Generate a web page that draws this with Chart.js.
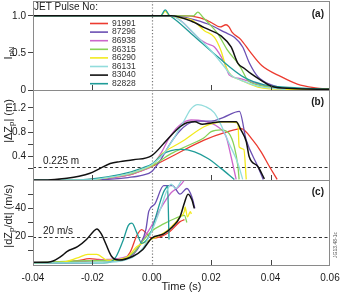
<!DOCTYPE html>
<html><head><meta charset="utf-8">
<script src="https://cdn.jsdelivr.net/npm/chart.js@4.4.1/dist/chart.umd.min.js"></script>
<style>
html,body{margin:0;padding:0;background:#fff;}
#wrap{position:relative;width:342px;height:294px;overflow:hidden;background:#fff;}
canvas{position:absolute;left:0;}
</style></head><body>
<div id="wrap">
<canvas id="cA" width="342" height="100" style="top:0px"></canvas>
<canvas id="cB" width="342" height="110" style="top:80px"></canvas>
<canvas id="cC" width="342" height="124" style="top:170px"></canvas>
</div>
<script>
// ---------------- DATA ----------------
const pulseNames = ['91991','87296','86938','86315','86290','86131','83040','82828'];

// x tick values / labels
const xTickValues = [-0.04,-0.02,0,0.02,0.04,0.06];
const xTickLabels = ['-0.04','-0.02','0.00','0.02','0.04','0.06'];
const xInnerTicks = [-0.02,0.02,0.04];

// y ticks
const yTicksA = [0,0.5,1.0];           const yLabelsA = ['0','0.5','1.0'];
const yTicksB = [0.2,0.4,0.6,0.8,1.0,1.2]; const yLabelsB = ['','0.4','','0.8','','1.2'];
const yTicksC = [10,20,30,40,50];      const yLabelsC = ['','20','','40',''];

// thresholds
const thresholdB = 0.225; const thresholdBLabel = '0.225 m';
const thresholdC = 20;    const thresholdCLabel = '20 m/s';

// ---- Panel (a): I_pN ----
const tA_91991 = [-0.04,0.012,0.018,0.020,0.023,0.025,0.026,0.027,0.030,0.033,0.037,0.0435,0.049,0.055,0.06];
const vA_91991 = [1,1,0.95,0.91,0.85,0.88,0.85,0.78,0.68,0.52,0.33,0.18,0.08,0.03,0.01];
const tA_87296 = [-0.04,0.008,0.0132,0.0189,0.0245,0.0278,0.0306,0.0329,0.0357,0.0402,0.047,0.06];
const vA_87296 = [1,1,0.96,0.89,0.78,0.71,0.58,0.36,0.18,0.07,0.02,0.01];
const tA_86938 = [-0.04,0.0065,0.0099,0.0132,0.0166,0.0189,0.0211,0.0245,0.0261,0.029,0.0334,0.04,0.05];
const vA_86938 = [1,1,0.93,0.80,0.67,0.62,0.58,0.36,0.20,0.16,0.11,0.04,0.01];
const tA_86315 = [-0.04,0.014,0.0155,0.0172,0.0189,0.0222,0.0256,0.029,0.0301,0.0323,0.0357,0.045,0.06];
const vA_86315 = [1,1,1.05,0.98,0.91,0.76,0.53,0.36,0.29,0.13,0.07,0.02,0.01];
const tA_86290 = [-0.04,0.003,0.0045,0.006,0.0132,0.0177,0.0211,0.0233,0.025,0.0267,0.0301,0.0357,0.045,0.06];
const vA_86290 = [1,1,1.06,1,0.95,0.80,0.71,0.53,0.31,0.20,0.13,0.04,0.01,0.01];
const tA_86131 = [-0.04,0.0065,0.011,0.0155,0.020,0.0245,0.0267,0.0301,0.036,0.045];
const vA_86131 = [1,1,0.89,0.71,0.53,0.31,0.20,0.13,0.05,0.01];
const tA_83040 = [-0.04,0.0065,0.0132,0.0177,0.0233,0.0267,0.029,0.0312,0.0334,0.0368,0.0402,0.047,0.06];
const vA_83040 = [1,1,0.93,0.84,0.73,0.58,0.36,0.29,0.22,0.13,0.05,0.02,0.01];
const tA_82828 = [-0.04,0.003,0.0045,0.006,0.0065,0.0133,0.0224,0.0311,0.0379,0.0493,0.06];
const vA_82828 = [1,1,1.08,1,0.99,0.76,0.44,0.17,0.07,0.03,0.01];

// ---- Panel (b): |dZp| (m) ----
const tB_91991 = [-0.04,-0.025,-0.015,-0.008,-0.003,0,0.0065,0.0176,0.025,0.0301,0.034,0.0368,0.0396,0.0422];
const vB_91991 = [0.02,0.02,0.05,0.10,0.18,0.24,0.40,0.67,0.80,0.86,0.67,0.48,0.24,0.03];
const tB_87296 = [-0.04,-0.022,-0.015,-0.008,-0.003,0,0.003,0.006,0.009,0.012,0.015,0.02,0.024,0.0295,0.0318,0.0357,0.0375];
const vB_87296 = [0.02,0.02,0.03,0.06,0.10,0.16,0.35,0.60,0.80,0.93,0.98,0.98,1.04,1.14,0.67,0.24,0.03];
const tB_86938 = [-0.04,-0.022,-0.015,-0.008,-0.003,0,0.003,0.006,0.009,0.0132,0.0176,0.0222,0.025,0.0267,0.0284];
const vB_86938 = [0.02,0.02,0.05,0.10,0.18,0.25,0.45,0.72,0.90,1.0,0.98,0.89,0.73,0.40,0.03];
const tB_86315 = [-0.04,-0.022,-0.015,-0.008,-0.003,0,0.0065,0.012,0.0176,0.020,0.0233,0.026,0.0278,0.029,0.0294];
const vB_86315 = [0.02,0.02,0.06,0.11,0.19,0.25,0.45,0.58,0.71,0.81,0.84,0.78,0.56,0.24,0.03];
const tB_86290 = [-0.04,-0.022,-0.015,-0.008,-0.003,0,0.0035,0.0099,0.0176,0.021,0.025,0.029,0.0294,0.031,0.0318];
const vB_86290 = [0.02,0.02,0.06,0.12,0.20,0.26,0.45,0.64,0.89,0.95,0.97,0.95,0.56,0.52,0.03];
const tB_86131 = [-0.04,-0.022,-0.015,-0.008,-0.003,0,0.004,0.008,0.011,0.013,0.0155,0.018,0.021,0.023,0.026,0.029,0.0306];
const vB_86131 = [0.02,0.02,0.06,0.12,0.20,0.27,0.45,0.75,1.0,1.17,1.25,1.22,1.12,0.95,0.62,0.29,0.03];
const tB_83040 = [-0.04,-0.035,-0.0286,-0.0245,-0.0208,-0.0174,-0.014,-0.0107,-0.0062,0,0.005,0.0095,0.012,0.0145,0.017,0.02,0.0233,0.0284,0.030,0.0318,0.0328,0.0357,0.0379];
const vB_83040 = [0.02,0.02,0.048,0.08,0.13,0.21,0.29,0.32,0.35,0.42,0.67,0.89,0.96,0.97,0.93,0.95,0.97,0.97,0.84,0.65,0.40,0.24,0.04];
const tB_82828 = [-0.04,-0.025,-0.015,-0.008,-0.003,0,0.0039,0.0065,0.0099,0.0144,0.0189,0.0233,0.0278];
const vB_82828 = [0.02,0.02,0.07,0.14,0.22,0.28,0.45,0.50,0.52,0.48,0.37,0.21,0.03];

// ---- Panel (c): |dZp/dt| (m/s) ----
const tC_91991 = [-0.04,-0.03,-0.025,-0.021,-0.018,-0.0107,-0.0073,-0.005,-0.0034,-0.0017,0,0.003,0.006,0.0095,0.011];
const vC_91991 = [1.5,2,3,4.5,4,3,9,21,25,22,18.8,20,23.5,30.6,32];
const tC_87296 = [-0.04,-0.015,-0.012,-0.009,-0.006,-0.004,-0.002,-0.001,0.001,0.004,0.007,0.0095,0.0118,0.0135,0.0145];
const vC_87296 = [1.5,2,3,4,8,14,25,38,43,56,56,50,54,48,40];
const tC_86938 = [-0.04,-0.02,-0.015,-0.01,-0.006,-0.003,0,0.003,0.0065,0.009,0.011,0.012];
const vC_86938 = [1.5,3,4,5,9,18,28,40,51,55,60,64];
const tC_86315 = [-0.04,-0.02,-0.015,-0.01,-0.006,-0.003,0,0.004,0.008,0.011,0.0118];
const vC_86315 = [1.5,3,3,4,9,17,24,29,33,35,30];
const tC_86290 = [-0.04,-0.03,-0.025,-0.0215,-0.0185,-0.015,-0.011,-0.008,-0.005,-0.0017,0.0017,0.005,0.008,0.0095,0.011,0.0112,0.012,0.013,0.0133];
const vC_86290 = [1.5,2,5,7.5,7.5,3.5,4,6,13,16.5,20,24,30,34,38,41,34,37.7,36];
const tC_86131 = [-0.04,-0.015,-0.01,-0.006,-0.003,0,0.003,0.005,0.0065,0.008,0.0095,0.011];
const vC_86131 = [1.5,2,3,6,12,24,40,52,57,54,58,64];
const tC_83040 = [-0.04,-0.035,-0.033,-0.030,-0.0286,-0.025,-0.022,-0.0195,-0.0185,-0.017,-0.0155,-0.0135,-0.011,-0.0065,-0.003,0,0.004,0.007,0.0095,0.011,0.0122,0.0135,0.0143];
const vC_83040 = [2,2,3,7,9.5,13,18,24,25.5,22,15,6,3.5,6,11,19,22,27,34,44,50,46,40];
const tC_82828 = [-0.04,-0.016,-0.014,-0.012,-0.0096,-0.0079,-0.0067,-0.005,-0.0034,-0.0017,0,0.0017,0.0038,0.005,0.0053,0.0058];
const vC_82828 = [1.5,1.5,2,6,17.7,28,29.5,22.5,15.3,17.7,24.7,36.6,50.7,55,56,18];

// ---------------- STYLE ----------------
const pulseColors = ['#ec3b30','#6b4fb3','#cc66cc','#86d257','#f2ea1e','#92dcdc','#111111','#1f9c98'];
const drawOrder   = [6,4,5,3,2,1,0,1];
const FONT = "'Liberation Sans', Arial, Helvetica, sans-serif";

function series(ts, vs){ return ts.map((t,i)=>({x:t,y:vs[i]})); }

const panelA = [[tA_91991,vA_91991],[tA_87296,vA_87296],[tA_86938,vA_86938],[tA_86315,vA_86315],[tA_86290,vA_86290],[tA_86131,vA_86131],[tA_83040,vA_83040],[tA_82828,vA_82828]];
const panelB = [[tB_91991,vB_91991],[tB_87296,vB_87296],[tB_86938,vB_86938],[tB_86315,vB_86315],[tB_86290,vB_86290],[tB_86131,vB_86131],[tB_83040,vB_83040],[tB_82828,vB_82828]];
const panelC = [[tC_91991,vC_91991],[tC_87296,vC_87296],[tC_86938,vC_86938],[tC_86315,vC_86315],[tC_86290,vC_86290],[tC_86131,vC_86131],[tC_83040,vC_83040],[tC_82828,vC_82828]];

function datasets(panel){
  return panel.map((p,i)=>({
    label: pulseNames[i], data: series(p[0],p[1]),
    borderColor: pulseColors[i], backgroundColor: pulseColors[i],
    borderWidth: i===6 ? 1.5 : 1.3, pointRadius: 0, fill:false,
    cubicInterpolationMode:'monotone', order: drawOrder[i]
  }));
}

function drawRich(ctx, cx, cy, parts, size){
  ctx.save();
  ctx.translate(cx, cy); ctx.rotate(-Math.PI/2);
  ctx.fillStyle = '#1a1a1a'; ctx.textBaseline = 'alphabetic'; ctx.textAlign = 'left';
  const subSize = (size*0.72).toFixed(1);
  let total = 0;
  const widths = parts.map(p=>{ ctx.font = (p.sub? subSize: size) + 'px ' + FONT; const w = ctx.measureText(p.t).width; total += w; return w; });
  let x = -total/2;
  parts.forEach((p,i)=>{ ctx.font = (p.sub? subSize: size) + 'px ' + FONT; ctx.fillText(p.t, x, p.sub ? 6.5 : 4); x += widths[i]; });
  ctx.restore();
}

const decorPlugin = {
  id:'decor',
  beforeDatasetsDraw(chart, args, opts){
    const ctx = chart.ctx, ca = chart.chartArea, xs = chart.scales.x, ys = chart.scales.y;
    ctx.save();
    ctx.strokeStyle = '#777'; ctx.lineWidth = 1.2; ctx.setLineDash([1.2,2]);
    const x0 = Math.round(xs.getPixelForValue(0))+0.5;
    ctx.beginPath(); ctx.moveTo(x0, ca.top); ctx.lineTo(x0, ca.bottom); ctx.stroke();
    if (opts.threshold !== undefined){
      const y = Math.round(ys.getPixelForValue(opts.threshold))+0.5;
      ctx.strokeStyle = '#333'; ctx.lineWidth = 1.2; ctx.setLineDash([3,2.5]);
      ctx.beginPath(); ctx.moveTo(ca.left, y); ctx.lineTo(ca.right, y); ctx.stroke();
      ctx.setLineDash([]);
      ctx.fillStyle = '#1a1a1a'; ctx.font = '10px ' + FONT; ctx.textBaseline = 'middle'; ctx.textAlign='left';
      ctx.fillText(opts.thresholdLabel, ca.left + 10, y - 6.5);
    }
    ctx.restore();
  },
  afterDatasetsDraw(chart, args, opts){
    const ctx = chart.ctx, ca = chart.chartArea, xs = chart.scales.x;
    ctx.save();
    ctx.strokeStyle = '#8a8a8a'; ctx.lineWidth = 1;
    ctx.strokeRect(Math.round(ca.left)+0.5, Math.round(ca.top)+0.5, Math.round(ca.right-ca.left)-1, Math.round(ca.bottom-ca.top));
    ctx.strokeStyle = '#444';
    xInnerTicks.forEach(v=>{
      const x = Math.round(xs.getPixelForValue(v))+0.5;
      ctx.beginPath(); ctx.moveTo(x, ca.bottom); ctx.lineTo(x, ca.bottom-5); ctx.stroke();
    });
    ctx.fillStyle = '#1a1a1a'; ctx.font = 'bold 10px ' + FONT; ctx.textAlign='right'; ctx.textBaseline='middle';
    ctx.fillText(opts.panelLabel, ca.right - 6, ca.top + opts.panelLabelDy);
    drawRich(ctx, 7.5, opts.titleY, opts.titleParts, 11);
    if (opts.legend){
      ctx.textAlign='left'; ctx.textBaseline='middle';
      ctx.font = '10px ' + FONT; ctx.fillStyle='#1a1a1a';
      ctx.fillText(opts.legendTitle, ca.left + 1, ca.top + 6.5);
      ctx.font = '8.5px ' + FONT;
      chart.data.datasets.forEach((d,i)=>{
        const y = ca.top + 22.5 + i*8.6;
        ctx.strokeStyle = d.borderColor; ctx.lineWidth = 1.6;
        ctx.beginPath(); ctx.moveTo(90, y); ctx.lineTo(108, y); ctx.stroke();
        ctx.fillStyle = '#333';
        ctx.fillText(d.label, 112, y);
      });
    }
    if (opts.sideNote){
      ctx.save(); ctx.translate(336, opts.sideNoteY); ctx.rotate(-Math.PI/2);
      ctx.font = '5px ' + FONT; ctx.fillStyle='#555'; ctx.textAlign='center'; ctx.textBaseline='middle';
      ctx.fillText(opts.sideNote, 0, 0); ctx.restore();
    }
    ctx.restore();
  }
};

function yScale(min, max, ticks, labels){
  return {
    type:'linear', min:min, max:max, position:'left',
    afterBuildTicks: s => { s.ticks = ticks.map(v=>({value:v})); },
    afterFit: s => { s.width = 33; s.paddingTop = 0; s.paddingBottom = 0; },
    ticks:{ callback:(v,i)=>labels[i], color:'#1a1a1a', font:{family:FONT, size:10}, padding:2, autoSkip:false },
    grid:{ display:true, drawOnChartArea:false, drawTicks:true, tickLength:5, color:'#444' },
    border:{ display:false }
  };
}

function xScale(show){
  const s = { type:'linear', min:-0.04, max:0.06, position:'bottom',
    border:{display:false}, grid:{display:false} };
  if (!show){ s.display = false; return s; }
  s.display = true;
  s.afterBuildTicks = sc => { sc.ticks = xTickValues.map(v=>({value:v})); };
  s.afterFit = sc => { sc.height = 29; sc.paddingLeft = 0; sc.paddingRight = 0; };
  s.ticks = { callback:(v,i)=>xTickLabels[i], color:'#1a1a1a', font:{family:FONT, size:10}, padding:7, autoSkip:false, maxRotation:0 };
  s.grid = { display:true, drawOnChartArea:false, drawTicks:false };
  s.title = { display:true, text:'Time (s)', color:'#1a1a1a', font:{family:FONT, size:11}, padding:{top:0,bottom:0} };
  return s;
}

function make(id, panel, pad, ymin, ymax, yt, yl, showX, decor){
  return new Chart(document.getElementById(id), {
    type:'line',
    data:{ datasets: datasets(panel) },
    options:{
      responsive:false, animation:false, events:[],
      layout:{ padding: pad },
      scales:{ x: xScale(showX), y: yScale(ymin, ymax, yt, yl) },
      plugins:{ legend:{display:false}, tooltip:{enabled:false}, decor: decor }
    },
    plugins:[decorPlugin]
  });
}

make('cA', panelA, {top:1,bottom:10,left:0,right:12}, 0, 1.2, yTicksA, yLabelsA, false,
  { panelLabel:'(a)', panelLabelDy:13, titleY:53, titleParts:[{t:'I'},{t:'pN',sub:true}],
    legend:true, legendTitle:'JET Pulse No:' });
make('cB', panelB, {top:10,bottom:10,left:0,right:12}, 0.02, 1.49, yTicksB, yLabelsB, false,
  { panelLabel:'(b)', panelLabelDy:12, titleY:41, titleParts:[{t:'|ΔZ'},{t:'p',sub:true},{t:'| (m)'}],
    threshold: thresholdB, thresholdLabel: thresholdBLabel });
make('cC', panelC, {top:10,bottom:0,left:0,right:12}, 0, 60, yTicksC, yLabelsC, true,
  { panelLabel:'(c)', panelLabelDy:12, titleY:46, titleParts:[{t:'|dZ'},{t:'p',sub:true},{t:'/dt| (m/s)'}],
    threshold: thresholdC, thresholdLabel: thresholdCLabel, sideNote:'JG13.48-1c', sideNoteY:75 });
</script>
</body></html>
